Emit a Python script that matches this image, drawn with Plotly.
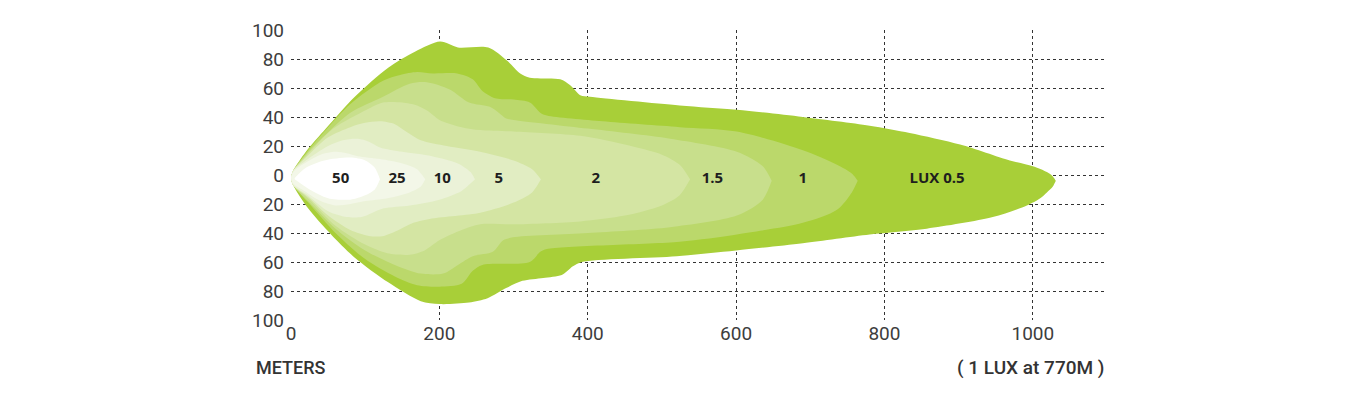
import plotly.graph_objects as go

# ---- data (meters along beam, lateral meters) ----
lux_levels = ["0.5", "1", "1.5", "2", "5", "10", "25", "50"]
colors = ["#a8cf38", "#bbd86b", "#c8df8c", "#d4e5a3", "#e1edc2", "#ebf2d8", "#f3f7e8", "#ffffff"]

up_x_05 = [0, 3, 20, 47, 86, 131, 167, 201, 225, 266, 291, 309, 322, 363, 376, 390, 403, 524, 601, 690, 780, 834, 902, 969, 1000, 1019, 1027, 1031]
up_y_05 = [-2, 3, 16, 32, 54, 74, 85, 92, 88, 88, 79, 70, 67, 66, 62, 55, 54, 48, 45, 40, 34, 29, 21, 10, 6, 2, -1, -4]
lo_x_05 = [0, 3, 23, 54, 86, 131, 175, 200, 240, 265, 290, 312, 340, 365, 380, 392, 520, 600, 690, 780, 857, 946, 992, 1010, 1019, 1027, 1031]
lo_y_05 = [-2, -7, -23, -41, -57, -74, -87, -89, -88, -85, -78, -73, -71, -69, -63, -60, -56, -52, -47, -41, -37, -29, -21, -16, -12, -8, -4]

up_x_1 = [0, 3, 20, 45, 80, 124, 147, 170, 191, 224, 245, 258, 275, 300, 322, 336, 345, 420, 524, 601, 690, 736, 756, 764]
up_y_1 = [-2, 3, 15, 30, 49, 65, 69, 71, 70, 70, 66, 58, 53, 52, 50, 43, 41, 37, 33, 30, 17, 7, 1, -4]
lo_x_1 = [0, 3, 25, 60, 100, 140, 170, 200, 230, 245, 258, 322, 336, 345, 524, 601, 690, 736, 756, 764]
lo_y_1 = [-2, -7, -20, -40, -58, -70, -76, -77, -75, -66, -62, -60, -53, -51, -46, -41, -33, -24, -12, -4]

up_x_15 = [0, 3, 20, 45, 80, 124, 160, 183, 214, 240, 268, 280, 290, 300, 400, 511, 601, 636, 648]
up_y_15 = [-2, 3, 14, 27, 43, 54, 63, 64, 59, 50, 47, 43, 39, 38, 32, 25, 16, 6, -4]
lo_x_15 = [0, 3, 25, 60, 100, 140, 175, 205, 225, 245, 272, 286, 299, 400, 511, 601, 636, 648]
lo_y_15 = [-2, -7, -19, -37, -52, -62, -68, -68, -62, -56, -53, -45, -43, -40, -36, -28, -17, -4]

up_x_2 = [0, 3, 20, 57, 102, 124, 150, 170, 185, 200, 230, 255, 300, 390, 450, 500, 524, 538]
up_y_2 = [-2, 3, 13, 32, 45, 50, 50, 48, 44, 38, 33, 31, 30, 27, 21, 14, 7, -3]
lo_x_2 = [0, 3, 25, 60, 100, 130, 160, 180, 200, 230, 255, 300, 390, 450, 500, 524, 538]
lo_y_2 = [-2, -7, -17, -35, -48, -54, -55, -52, -45, -38, -34, -34, -32, -28, -21, -14, -3]

up_x_5 = [0, 3, 20, 50, 80, 100, 120, 140, 155, 175, 210, 255, 300, 325, 337]
up_y_5 = [-2, 3, 12, 26, 33, 36, 37, 35, 30, 24, 20, 16, 10, 4, -3]
lo_x_5 = [0, 3, 25, 50, 80, 105, 125, 145, 165, 190, 255, 300, 325, 337]
lo_y_5 = [-2, -7, -16, -28, -38, -42, -42, -38, -33, -30, -26, -19, -12, -3]

up_x_10 = [0, 3, 20, 50, 70, 90, 105, 120, 150, 190, 225, 242, 248]
up_y_10 = [-2, 3, 10, 20, 24, 25, 23, 19, 16, 13, 8, 2, -3]
lo_x_10 = [0, 3, 20, 50, 75, 95, 110, 125, 160, 200, 230, 248]
lo_y_10 = [-2, -7, -13, -25, -29, -29, -26, -23, -21, -17, -11, -3]

up_x_25 = [0, 3, 15, 40, 60, 75, 90, 120, 150, 170, 181]
up_y_25 = [-2, 2, 7, 14, 16, 15, 13, 11, 8, 4, -3]
lo_x_25 = [0, 3, 15, 40, 60, 80, 100, 130, 160, 175, 181]
lo_y_25 = [-2, -6, -10, -18, -21, -20, -18, -16, -12, -8, -3]

up_x_50 = [5, 20, 45, 80, 100, 113, 120]
up_y_50 = [-2, 5, 10, 12, 10, 5, -3]
lo_x_50 = [5, 25, 50, 80, 100, 113, 120]
lo_y_50 = [-3, -10, -16, -17, -14, -10, -3]

label_text = ["50", "25", "10", "5", "2", "1.5", "1", "LUX 0.5"]
label_x = [67, 143, 204, 280, 411, 568, 690, 871]
label_y = [-3, -3, -3, -3, -3, -3, -3, -3]

x_ticks = [0, 200, 400, 600, 800, 1000, 1100]
x_ticktext = ["0", "200", "400", "600", "800", "1000", ""]
y_ticks = [-100, -80, -60, -40, -20, 0, 20, 40, 60, 80, 100]
y_ticktext = ["100", "80", "60", "40", "20", "0", "20", "40", "60", "80", "100"]

contours = [
    (up_x_05, up_y_05, lo_x_05, lo_y_05),
    (up_x_1, up_y_1, lo_x_1, lo_y_1),
    (up_x_15, up_y_15, lo_x_15, lo_y_15),
    (up_x_2, up_y_2, lo_x_2, lo_y_2),
    (up_x_5, up_y_5, lo_x_5, lo_y_5),
    (up_x_10, up_y_10, lo_x_10, lo_y_10),
    (up_x_25, up_y_25, lo_x_25, lo_y_25),
    (up_x_50, up_y_50, lo_x_50, lo_y_50),
]

fig = go.Figure()
for (ux, uy, lx, ly), col, name in zip(contours, colors, lux_levels):
    xs = list(ux) + list(reversed(lx))
    ys = list(uy) + list(reversed(ly))
    fig.add_trace(go.Scatter(
        x=xs, y=ys, mode="lines", fill="toself", fillcolor=col,
        line=dict(width=0, color=col, shape="spline", smoothing=0.8),
        hoverinfo="skip", showlegend=False, name=name,
    ))

fig.add_trace(go.Scatter(
    x=label_x, y=label_y, mode="text", text=label_text,
    textfont=dict(family="Open Sans", size=15, color="#1e1e1e", weight="bold"),
    hoverinfo="skip", showlegend=False,
))

grid = dict(showgrid=True, gridcolor="#333333", gridwidth=1.3, griddash="dot", zeroline=False,
            showline=False, ticks="", tickfont=dict(family="Roboto", size=19, color="#3d3d3d"))

fig.update_xaxes(range=[0, 1100], tickvals=x_ticks, ticktext=x_ticktext, **grid)
fig.update_yaxes(range=[-100, 100], tickvals=y_ticks, ticktext=y_ticktext, ticklabelstandoff=6, **grid)

fig.add_annotation(x=-0.045, y=-0.163, xref="paper", yref="paper", text="METERS", showarrow=False,
                   xanchor="left", yanchor="middle",
                   font=dict(family="Roboto", size=18, color="#333333", weight=500))
fig.add_annotation(x=1.0, y=-0.163, xref="paper", yref="paper", text="( 1 LUX at 770M )", showarrow=False,
                   xanchor="right", yanchor="middle",
                   font=dict(family="Roboto", size=19, color="#333333", weight=500))

fig.update_layout(
    width=1360, height=400,
    margin=dict(l=283, r=261, t=22, b=88),
    plot_bgcolor="white", paper_bgcolor="white",
)

fig.write_html("out.html")
